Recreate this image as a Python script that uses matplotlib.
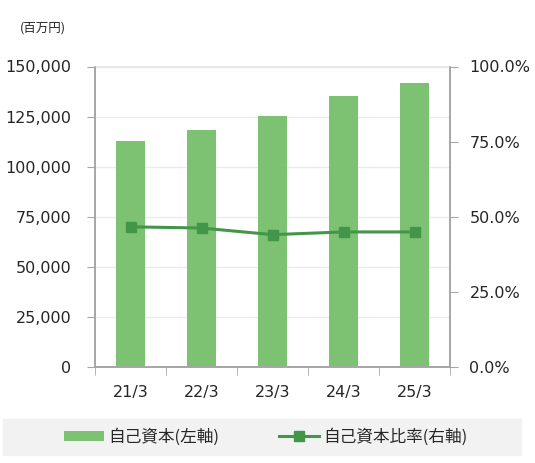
import matplotlib
matplotlib.use("Agg")
import matplotlib.pyplot as plt
from matplotlib.patches import Rectangle
from matplotlib.ticker import FuncFormatter

plt.rcParams['font.family'] = ['Noto Sans CJK JP', 'DejaVu Sans']

# data
years = ["21/3", "22/3", "23/3", "24/3", "25/3"]
equity = [113000, 118500, 125500, 135500, 141800]
equityRatio = [46.7, 46.3, 44.1, 45.0, 45.0]

barColor = "#7dc273"
lineColor = "#43954a"
spineColor = "#a6a6a6"
textColor = "#262626"
numFont = ['DejaVu Sans']

fig = plt.figure(figsize=(5.35, 4.63), dpi=100)
ax = fig.add_axes([95 / 535, 1 - 367.3 / 463, 355 / 535, 300.8 / 463])
ax2 = ax.twinx()

x = list(range(len(years)))
bars = ax.bar(x, equity, width=0.42, color=barColor, zorder=2, label="自己資本(左軸)")
ax.set_ylim(0, 150000)
ax.set_xlim(-0.5, len(years) - 0.5)
ax.set_yticks(range(0, 150001, 25000))
ax.yaxis.set_major_formatter(FuncFormatter(lambda v, p: f"{int(v):,}"))
ax.grid(axis='y', color="#ebebeb", linewidth=1, zorder=0)
ax.set_axisbelow(True)

ax.set_xticks(x)
ax.set_xticklabels(years)
ax.set_xticks([i - 0.5 for i in range(len(years) + 1)], minor=True)
ax.tick_params(axis='x', which='major', length=0, pad=13, labelsize=11.5, colors=textColor)
ax.tick_params(axis='x', which='minor', length=6, color=spineColor, direction='out')
ax.tick_params(axis='y', length=6, color=spineColor, labelsize=11.5, labelcolor=textColor, pad=11)

line, = ax2.plot(x, equityRatio, color=lineColor, linewidth=2.2, marker='s', markersize=7,
                 zorder=3, label="自己資本比率(右軸)")
ax2.set_ylim(0, 100)
ax2.set_yticks(range(0, 101, 25))
ax2.yaxis.set_major_formatter(FuncFormatter(lambda v, p: f"{v:.1f}%"))
ax2.tick_params(axis='y', length=6, color=spineColor, labelsize=11.5, labelcolor=textColor, pad=8)

for lbl in ax.get_xticklabels() + ax.get_yticklabels() + ax2.get_yticklabels():
    lbl.set_family(numFont)

for a in (ax, ax2):
    a.spines['top'].set_color("#e6e6e6")
    a.spines['left'].set_color(spineColor)
    a.spines['right'].set_color(spineColor)
    a.spines['bottom'].set_color(spineColor)
    for s in a.spines.values():
        s.set_linewidth(1.2)
ax2.spines['top'].set_visible(False)

fig.text(20 / 535, 1 - 28 / 463, "(百万円)", fontsize=9, color=textColor, va='center')

# legend band
fig.patches.append(Rectangle((3 / 535, 1 - 455 / 463), 518 / 535, 36 / 463,
                             transform=fig.transFigure, color="#f2f2f2", zorder=0))
fig.legend(handles=[bars, line], loc='center', bbox_to_anchor=(266 / 535, 1 - 437 / 463),
           ncol=2, frameon=False, fontsize=12, handlelength=2.4, handleheight=0.6,
           columnspacing=3.6, handletextpad=0.25, labelcolor=textColor)

fig.savefig("out.png", dpi=100)
